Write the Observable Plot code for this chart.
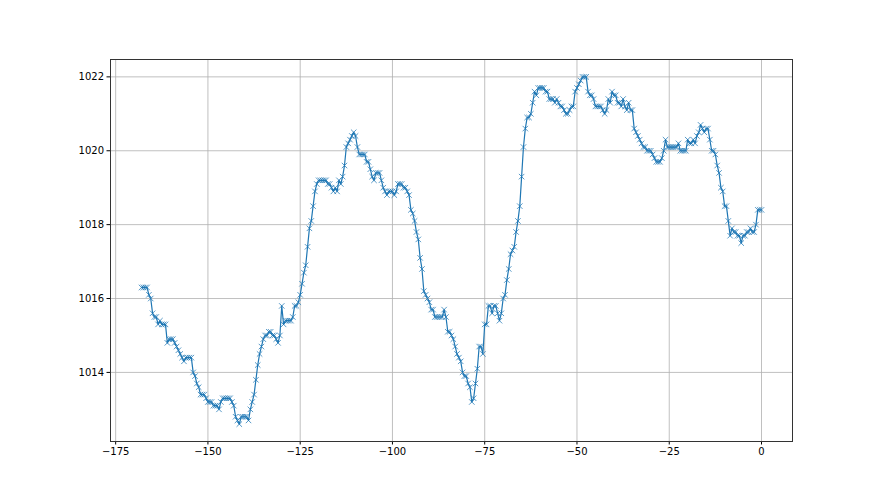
<!DOCTYPE html>
<html>
<head>
<meta charset="utf-8">
<script src="https://cdn.jsdelivr.net/npm/d3@7"></script>
<script src="https://cdn.jsdelivr.net/npm/@observablehq/plot@0.6"></script>
<style>
  html, body { margin: 0; padding: 0; background: #ffffff; }
  #chart { width: 880px; height: 495px; }
  svg text { font-family: "DejaVu Sans", sans-serif; }
</style>
</head>
<body>
<div id="chart"></div>
<script>
// Pressure readings (hPa), half-hour steps, last reading at hour 0
const stepHours = 0.5;
const pressure = [
  1016.3, 1016.3, 1016.3, 1016.3, 1016.1, 1016.0, 1015.6, 1015.5, 1015.5, 1015.3,
  1015.4, 1015.3, 1015.3, 1015.3, 1014.8, 1014.9, 1014.9, 1014.9, 1014.8, 1014.7,
  1014.6, 1014.5, 1014.4, 1014.3, 1014.4, 1014.4, 1014.4, 1014.4, 1014.0, 1013.9,
  1013.7, 1013.6, 1013.4, 1013.4, 1013.4, 1013.3, 1013.2, 1013.2, 1013.2, 1013.1,
  1013.1, 1013.1, 1013.0, 1013.2, 1013.3, 1013.3, 1013.3, 1013.3, 1013.3, 1013.2,
  1013.1, 1012.8, 1012.7, 1012.6, 1012.8, 1012.8, 1012.8, 1012.8, 1012.7, 1013.0,
  1013.2, 1013.4, 1013.8, 1014.2, 1014.5, 1014.7, 1014.9, 1015.0, 1015.0, 1015.1,
  1015.1, 1015.0, 1015.0, 1014.9, 1014.8, 1015.0, 1015.8, 1015.3, 1015.4, 1015.4,
  1015.4, 1015.4, 1015.5, 1015.8, 1015.8, 1015.9, 1016.1, 1016.4, 1016.7, 1016.9,
  1017.4, 1017.9, 1018.1, 1018.5, 1018.9, 1019.1, 1019.2, 1019.2, 1019.2, 1019.2,
  1019.2, 1019.1, 1019.1, 1019.0, 1018.9, 1019.0, 1018.9, 1019.2, 1019.1, 1019.3,
  1019.6, 1020.1, 1020.2, 1020.3, 1020.4, 1020.5, 1020.4, 1020.1, 1019.9, 1019.9,
  1019.9, 1019.9, 1019.7, 1019.7, 1019.5, 1019.3, 1019.2, 1019.4, 1019.4, 1019.4,
  1019.2, 1019.0, 1018.9, 1018.8, 1018.9, 1018.9, 1018.9, 1018.8, 1018.9, 1019.1,
  1019.1, 1019.1, 1019.0, 1019.0, 1018.9, 1018.8, 1018.4, 1018.3, 1018.1, 1017.8,
  1017.6, 1017.1, 1016.8, 1016.2, 1016.1, 1016.0, 1015.9, 1015.7, 1015.7, 1015.5,
  1015.5, 1015.5, 1015.5, 1015.5, 1015.7, 1015.5, 1015.1, 1015.1, 1015.0, 1014.9,
  1014.7, 1014.5, 1014.4, 1014.3, 1014.0, 1013.9, 1013.9, 1013.7, 1013.6, 1013.2,
  1013.3, 1013.7, 1014.1, 1014.7, 1014.7, 1014.5, 1015.3, 1015.3, 1015.8, 1015.8,
  1015.6, 1015.8, 1015.8, 1015.6, 1015.4, 1015.6, 1016.0, 1016.1, 1016.5, 1016.8,
  1017.2, 1017.3, 1017.4, 1017.8, 1018.1, 1018.5, 1019.3, 1020.1, 1020.6, 1020.9,
  1020.9, 1021.0, 1021.3, 1021.6, 1021.5, 1021.7, 1021.7, 1021.7, 1021.7,
  1021.6, 1021.6, 1021.4, 1021.4, 1021.4, 1021.3, 1021.4, 1021.3, 1021.2, 1021.2,
  1021.1, 1021.0, 1021.0, 1021.1, 1021.2, 1021.2, 1021.6, 1021.7, 1021.8, 1021.9,
  1022.0, 1022.0, 1022.0, 1021.6, 1021.5, 1021.5, 1021.4, 1021.2, 1021.2, 1021.2,
  1021.2, 1021.1, 1021.0, 1021.1, 1021.4, 1021.3, 1021.6, 1021.5, 1021.5, 1021.3,
  1021.3, 1021.2, 1021.4, 1021.2, 1021.1, 1021.3, 1021.1, 1021.1, 1020.6, 1020.5,
  1020.4, 1020.3, 1020.2, 1020.1, 1020.1, 1020.0, 1020.0, 1020.0, 1019.9, 1019.8,
  1019.7, 1019.7, 1019.7, 1019.8, 1020.0, 1020.3, 1020.1, 1020.1, 1020.1, 1020.1,
  1020.1, 1020.1, 1020.2, 1020.0, 1020.0, 1020.0, 1020.0, 1020.3, 1020.2, 1020.2,
  1020.3, 1020.2, 1020.4, 1020.5, 1020.7, 1020.6, 1020.5, 1020.6, 1020.6, 1020.3,
  1020.0, 1020.0, 1019.9, 1019.6, 1019.4, 1019.0, 1018.9, 1018.5, 1018.5, 1018.1,
  1017.7, 1017.9, 1017.8, 1017.8, 1017.7, 1017.7, 1017.5, 1017.7, 1017.7, 1017.8,
  1017.8, 1017.9, 1017.8, 1017.8, 1018.0, 1018.4, 1018.4, 1018.4
];
const xTicks = [-175, -150, -125, -100, -75, -50, -25, 0];
const yTicks = [1014, 1016, 1018, 1020, 1022];
const xDomain = [-176.4, 8.4];
const yDomain = [1012.13, 1022.47];

const n = pressure.length;
const data = pressure.map((p, i) => ({hour: -(n - 1 - i) * stepHours, p}));

const minus = d => String(d).replace("-", "\u2212");

const chart = Plot.plot({
  width: 880,
  height: 495,
  marginLeft: 110,
  marginRight: 88,
  marginTop: 59,
  marginBottom: 54,
  style: {fontFamily: "DejaVu Sans, sans-serif", fontSize: "10px", background: "#ffffff", color: "#000"},
  x: {domain: xDomain, label: null},
  y: {domain: yDomain, label: null},
  marks: [
    Plot.gridX(xTicks, {stroke: "#b0b0b0", strokeOpacity: 1, strokeWidth: 0.8}),
    Plot.gridY(yTicks, {stroke: "#b0b0b0", strokeOpacity: 1, strokeWidth: 0.8}),
    Plot.axisX({ticks: xTicks, tickFormat: minus, tickSize: 3.5, tickPadding: 3, label: null, stroke: "#000", fontSize: 10}),
    Plot.axisY({ticks: yTicks, tickFormat: d => String(d), tickSize: 3.5, tickPadding: 3, label: null, stroke: "#000", fontSize: 10}),
    Plot.line(data, {x: "hour", y: "p", stroke: "#1f77b4", strokeWidth: 1.2}),
    Plot.dot(data, {x: "hour", y: "p", symbol: "times", r: 2.6, stroke: "#1f77b4", strokeWidth: 1, strokeOpacity: 0.75}),
    Plot.frame({stroke: "#333", strokeWidth: 1})
  ]
});
document.getElementById("chart").appendChild(chart);
</script>
</body>
</html>
